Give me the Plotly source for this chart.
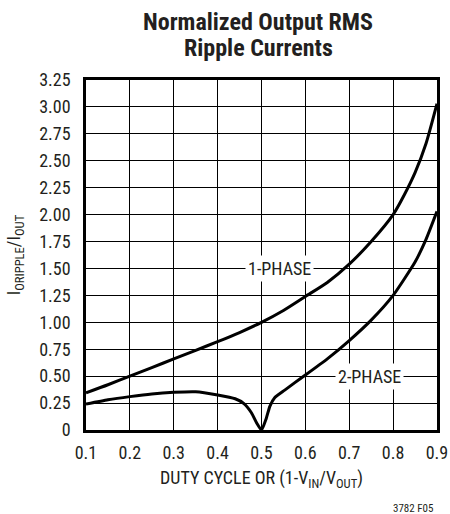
import plotly.graph_objects as go

duty_1ph = [0.1, 0.15, 0.2, 0.25, 0.3, 0.35, 0.4, 0.45, 0.5, 0.55, 0.6, 0.65, 0.7, 0.75, 0.8, 0.825, 0.85, 0.875, 0.9]
ripple_1ph = [0.345, 0.42, 0.50, 0.58, 0.66, 0.74, 0.82, 0.905, 1.00, 1.11, 1.24, 1.37, 1.54, 1.75, 2.00, 2.18, 2.39, 2.66, 3.03]

duty_2ph = [0.1, 0.15, 0.2, 0.25, 0.3, 0.35, 0.4, 0.44, 0.46, 0.477, 0.489, 0.5,
            0.511, 0.519, 0.53, 0.553, 0.576, 0.6, 0.65, 0.7, 0.75, 0.8, 0.85, 0.875, 0.9]
ripple_2ph = [0.24, 0.28, 0.31, 0.335, 0.35, 0.355, 0.325, 0.29, 0.245, 0.16, 0.065, 0.0,
              0.11, 0.22, 0.30, 0.37, 0.44, 0.51, 0.66, 0.83, 1.02, 1.25, 1.56, 1.77, 2.03]

x_ticks = [0.1, 0.2, 0.3, 0.4, 0.5, 0.6, 0.7, 0.8, 0.9]
x_ticktext = ["0.1", "0.2", "0.3", "0.4", "0.5", "0.6", "0.7", "0.8", "0.9"]
y_ticks = [0, 0.25, 0.5, 0.75, 1.0, 1.25, 1.5, 1.75, 2.0, 2.25, 2.5, 2.75, 3.0, 3.25]
y_ticktext = ["0", "0.25", "0.50", "0.75", "1.00", "1.25", "1.50", "1.75", "2.00",
              "2.25", "2.50", "2.75", "3.00", "3.25"]

FONT = "Roboto Condensed"
INK = "#231f20"

fig = go.Figure()
fig.add_trace(go.Scatter(x=duty_1ph, y=ripple_1ph, mode="lines",
                         line=dict(color="black", width=3, shape="spline", smoothing=0.6),
                         showlegend=False, hoverinfo="skip"))
fig.add_trace(go.Scatter(x=duty_2ph, y=ripple_2ph, mode="lines",
                         line=dict(color="black", width=3, shape="spline", smoothing=0.5),
                         showlegend=False, hoverinfo="skip"))

fig.add_annotation(x=0.54, y=1.5, text="1-PHASE", showarrow=False,
                   bgcolor="white", borderpad=2,
                   font=dict(family=FONT, size=18, color=INK))
fig.add_annotation(x=0.747, y=0.5, text="2-PHASE", showarrow=False,
                   bgcolor="white", borderpad=2,
                   font=dict(family=FONT, size=18, color=INK))

# title lines
fig.add_annotation(x=0.491, y=1.166, xref="paper", yref="paper", yanchor="middle",
                   text="<b>Normalized Output RMS</b>", showarrow=False,
                   font=dict(family=FONT, size=24, color=INK))
fig.add_annotation(x=0.491, y=1.092, xref="paper", yref="paper", yanchor="middle",
                   text="<b>Ripple Currents</b>", showarrow=False,
                   font=dict(family=FONT, size=24, color=INK))

fig.add_annotation(x=0.994, y=-0.223, xref="paper", yref="paper", xanchor="right",
                   yanchor="middle", text="3782 F05", showarrow=False,
                   font=dict(family=FONT, size=11, color=INK))

fig.update_layout(
    width=450, height=514,
    margin=dict(l=86, r=13, t=80, b=84),
    paper_bgcolor="white", plot_bgcolor="white",
    font=dict(family=FONT, color=INK),
    xaxis=dict(range=[0.1, 0.9], tickvals=x_ticks, ticktext=x_ticktext,
               showgrid=True, gridcolor="black", gridwidth=1,
               showline=True, linecolor="black", linewidth=2.5, mirror=True,
               ticks="", ticklabelstandoff=5, zeroline=False, automargin=False,
               tickfont=dict(family=FONT, size=18, color=INK),
               title=dict(text="DUTY CYCLE OR (1-V<sub>IN</sub>/V<sub>OUT</sub>)",
                          font=dict(family=FONT, size=18, color=INK), standoff=10)),
    yaxis=dict(range=[0, 3.25], tickvals=y_ticks, ticktext=y_ticktext,
               showgrid=True, gridcolor="black", gridwidth=1,
               showline=True, linecolor="black", linewidth=2.5, mirror=True,
               ticks="", ticklabelstandoff=9, zeroline=False, automargin=False,
               tickfont=dict(family=FONT, size=18, color=INK),
               title=dict(text="I<sub>ORIPPLE</sub>/I<sub>OUT</sub>",
                          font=dict(family=FONT, size=18, color=INK), standoff=14)),
)

fig.write_html("out.html", config={"displayModeBar": False},
               post_script="document.body.style.margin='0';document.body.style.overflow='hidden';")
